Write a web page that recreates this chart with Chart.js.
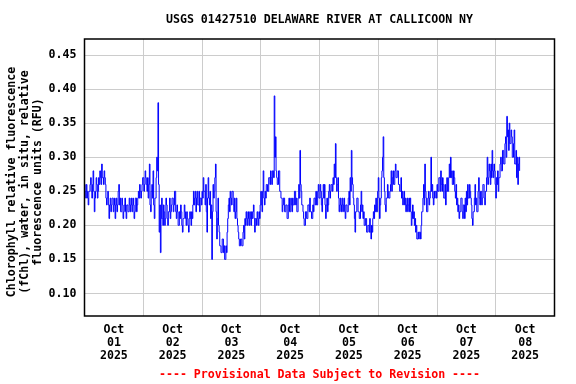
<!DOCTYPE html>
<html><head><meta charset="utf-8">
<script src="https://cdn.jsdelivr.net/npm/chart.js@4.4.0/dist/chart.umd.min.js"></script>
<style>html,body{margin:0;padding:0;background:#fff}</style>
</head><body>
<canvas id="c" width="576" height="384"></canvas>
<script>
const chartTitle = 'USGS 01427510 DELAWARE RIVER AT CALLICOON NY';
const yTitleLines = ['Chlorophyll relative fluorescence', '(fChl), water, in situ, relative', 'fluorescence units (RFU)'];
const footnote = '---- Provisional Data Subject to Revision ----';
const tickMonths = ['Oct', 'Oct', 'Oct', 'Oct', 'Oct', 'Oct', 'Oct', 'Oct'];
const tickDays = ['01', '02', '03', '04', '05', '06', '07', '08'];
const tickYears = ['2025', '2025', '2025', '2025', '2025', '2025', '2025', '2025'];
const yTickValues = [0.10, 0.15, 0.20, 0.25, 0.30, 0.35, 0.40, 0.45];
// readings every 15 minutes, starting Oct 01 00:00 (x in days since Oct 01 00:00)
const startDay = 0;
const stepDays = 1 / 96;
const chlRFU = [
  // Oct 01
  0.26,0.25,0.24,0.26,0.25,0.24,0.23,0.25,0.25,0.26,0.27,0.25,0.24,0.26,0.28,0.25,0.22,0.24,0.25,0.27,0.26,0.24,0.25,0.27,
  0.26,0.28,0.27,0.26,0.29,0.27,0.27,0.26,0.28,0.27,0.26,0.24,0.23,0.24,0.25,0.23,0.21,0.23,0.24,0.22,0.23,0.24,0.24,0.22,
  0.23,0.24,0.21,0.23,0.24,0.22,0.23,0.25,0.26,0.23,0.24,0.22,0.22,0.24,0.23,0.21,0.22,0.23,0.24,0.22,0.21,0.23,0.23,0.22,
  0.22,0.24,0.23,0.22,0.24,0.23,0.22,0.24,0.23,0.21,0.22,0.24,0.24,0.22,0.23,0.24,0.25,0.24,0.26,0.25,0.24,0.25,0.26,0.27,
  // Oct 02
  0.27,0.25,0.26,0.28,0.27,0.26,0.25,0.27,0.24,0.26,0.29,0.23,0.22,0.25,0.26,0.24,0.28,0.23,0.21,0.24,0.24,0.27,0.30,0.28,
  0.38,0.26,0.19,0.23,0.16,0.21,0.24,0.21,0.20,0.23,0.22,0.20,0.21,0.24,0.23,0.21,0.20,0.22,0.22,0.24,0.21,0.22,0.23,0.24,
  0.24,0.22,0.23,0.25,0.25,0.22,0.21,0.23,0.22,0.20,0.20,0.22,0.21,0.23,0.22,0.20,0.19,0.21,0.21,0.23,0.22,0.21,0.20,0.22,
  0.21,0.20,0.19,0.21,0.22,0.21,0.20,0.22,0.21,0.23,0.25,0.23,0.24,0.25,0.22,0.24,0.25,0.23,0.23,0.25,0.22,0.24,0.24,0.23,
  // Oct 03
  0.25,0.24,0.27,0.25,0.25,0.23,0.26,0.22,0.19,0.24,0.27,0.24,0.23,0.25,0.21,0.23,0.15,0.22,0.26,0.24,0.25,0.27,0.29,0.22,
  0.18,0.21,0.24,0.20,0.19,0.17,0.17,0.16,0.16,0.18,0.18,0.16,0.17,0.15,0.15,0.17,0.16,0.19,0.21,0.23,0.24,0.22,0.25,0.24,
  0.23,0.25,0.25,0.23,0.22,0.24,0.21,0.22,0.24,0.21,0.20,0.19,0.18,0.17,0.17,0.18,0.18,0.17,0.17,0.19,0.20,0.18,0.21,0.20,
  0.22,0.21,0.20,0.22,0.21,0.20,0.22,0.21,0.20,0.22,0.21,0.22,0.23,0.21,0.19,0.21,0.21,0.20,0.22,0.21,0.20,0.22,0.21,0.23,
  // Oct 04
  0.25,0.23,0.22,0.25,0.28,0.24,0.23,0.25,0.24,0.26,0.26,0.25,0.25,0.27,0.27,0.26,0.28,0.27,0.26,0.28,0.28,0.27,0.39,0.30,
  0.33,0.28,0.27,0.26,0.26,0.28,0.28,0.25,0.25,0.24,0.24,0.22,0.23,0.24,0.24,0.22,0.22,0.23,0.23,0.21,0.21,0.23,0.24,0.22,
  0.22,0.24,0.23,0.22,0.24,0.23,0.23,0.25,0.25,0.23,0.24,0.22,0.22,0.24,0.26,0.24,0.31,0.26,0.25,0.23,0.23,0.22,0.21,0.20,
  0.20,0.22,0.22,0.21,0.21,0.23,0.23,0.22,0.24,0.22,0.22,0.21,0.21,0.23,0.22,0.24,0.24,0.23,0.25,0.23,0.23,0.25,0.26,0.24,
  // Oct 05
  0.24,0.26,0.25,0.23,0.22,0.24,0.26,0.24,0.26,0.23,0.21,0.23,0.24,0.22,0.23,0.25,0.26,0.24,0.25,0.26,0.26,0.25,0.27,0.26,
  0.29,0.27,0.32,0.27,0.25,0.26,0.27,0.24,0.22,0.23,0.24,0.22,0.23,0.24,0.22,0.23,0.24,0.22,0.21,0.23,0.23,0.22,0.22,0.24,
  0.25,0.23,0.27,0.25,0.31,0.27,0.26,0.24,0.23,0.21,0.19,0.22,0.22,0.24,0.24,0.22,0.22,0.21,0.21,0.23,0.25,0.22,0.23,0.21,
  0.22,0.20,0.20,0.21,0.21,0.19,0.19,0.20,0.20,0.19,0.21,0.19,0.18,0.20,0.19,0.21,0.22,0.21,0.23,0.22,0.24,0.22,0.22,0.25,
  // Oct 06
  0.27,0.24,0.21,0.23,0.24,0.27,0.28,0.30,0.33,0.27,0.25,0.23,0.22,0.24,0.24,0.26,0.25,0.24,0.24,0.25,0.26,0.28,0.25,0.27,
  0.28,0.26,0.26,0.28,0.29,0.27,0.27,0.28,0.28,0.26,0.26,0.25,0.25,0.27,0.24,0.25,0.23,0.24,0.25,0.23,0.24,0.22,0.23,0.24,
  0.22,0.23,0.24,0.22,0.24,0.22,0.20,0.21,0.23,0.21,0.22,0.20,0.21,0.19,0.20,0.18,0.18,0.19,0.18,0.19,0.19,0.18,0.20,0.22,
  0.22,0.24,0.26,0.23,0.29,0.25,0.24,0.22,0.22,0.24,0.25,0.23,0.24,0.25,0.30,0.25,0.26,0.24,0.23,0.25,0.24,0.25,0.25,0.24,
  0.26,0.25,0.25,0.27,0.27,0.25,0.28,0.26,
  // Oct 07
  0.25,0.27,0.26,0.24,0.24,0.26,0.23,0.25,0.27,0.25,0.25,0.27,0.29,0.27,0.30,0.27,0.28,0.26,0.26,0.28,0.27,0.25,0.24,0.26,
  0.23,0.24,0.22,0.23,0.21,0.22,0.22,0.24,0.24,0.22,0.21,0.23,0.23,0.21,0.24,0.22,0.25,0.23,0.26,0.24,0.24,0.26,0.25,0.24,
  0.23,0.21,0.20,0.22,0.22,0.24,0.26,0.23,0.24,0.22,0.22,0.25,0.27,0.24,0.23,0.25,0.25,0.23,0.24,0.26,0.26,0.24,0.23,0.25,
  0.25,0.27,0.30,0.26,0.27,0.29,0.28,0.26,0.29,0.27,0.31,0.28,0.27,0.29,0.28,0.26,0.24,0.27,0.26,0.28,0.25,0.27,0.27,0.29,
  // Oct 08
  0.30,0.28,0.28,0.31,0.31,0.29,0.29,0.32,0.33,0.30,0.36,0.33,0.34,0.31,0.35,0.32,0.32,0.34,0.33,0.30,0.30,0.32,0.34,0.29,
  0.29,0.31,0.27,0.30,0.26,0.29,0.30,0.28
];

const FONT = "'DejaVu Sans Mono', monospace";
const FS = 11.6;
const BOLD = 'bold ' + FS + 'px ' + FONT;

const textPlugin = {
  id: 'texts',
  afterDraw(chart) {
    const {ctx, chartArea: a} = chart;
    const cx = (a.left + a.right) / 2;
    ctx.save();
    // frame
    ctx.strokeStyle = '#000';
    ctx.lineWidth = 1.5;
    ctx.strokeRect(a.left, a.top, a.right - a.left, a.bottom - a.top);
    // title
    ctx.font = BOLD;
    ctx.textAlign = 'center';
    ctx.textBaseline = 'middle';
    ctx.fillStyle = '#000';
    ctx.fillText(chartTitle, cx, 20);
    // footnote
    ctx.fillStyle = '#ff0000';
    ctx.fillText(footnote, cx, 375);
    // y axis title
    ctx.fillStyle = '#000';
    ctx.translate(0, 182);
    ctx.rotate(-Math.PI / 2);
    yTitleLines.forEach((line, i) => ctx.fillText(line, 0, 12 + i * 13));
    ctx.restore();
  }
};

new Chart(document.getElementById('c').getContext('2d'), {
  type: 'line',
  data: {
    datasets: [{
      data: chlRFU.map((v, i) => ({x: startDay + i * stepDays, y: v})),
      borderColor: '#0000ff',
      borderWidth: 1,
      pointRadius: 0,
      stepped: true,
      fill: false
    }]
  },
  options: {
    responsive: false,
    animation: false,
    devicePixelRatio: 1,
    layout: {padding: {left: 0, right: 21.5, top: 39, bottom: 20}},
    plugins: {
      legend: {display: false},
      tooltip: {enabled: false},
      title: {display: false},
      subtitle: {display: false}
    },
    scales: {
      x: {
        type: 'linear', min: 0, max: 8,
        afterBuildTicks: s => {
          const t = [];
          for (let k = 0; k <= 16; k++) t.push({value: k * 0.5});
          s.ticks = t;
        },
        afterFit: s => { s.height = 48; },
        grid: {
          color: c => (c.tick && Number.isInteger(c.tick.value)) ? '#cccccc' : 'rgba(0,0,0,0)',
          drawTicks: false, lineWidth: 1
        },
        border: {display: false},
        ticks: {
          autoSkip: false, maxRotation: 0, minRotation: 0, padding: 7, color: '#000',
          font: {family: FONT, size: FS, weight: 'bold', lineHeight: 13 / FS},
          callback: v => {
            if (Number.isInteger(v)) return '';
            const i = Math.floor(v);
            return [tickMonths[i], tickDays[i], tickYears[i]];
          }
        }
      },
      y: {
        min: 0.067, max: 0.4735,
        afterBuildTicks: s => { s.ticks = yTickValues.map(v => ({value: v})); },
        afterFit: s => { s.width = 84.5; },
        grid: {color: '#cccccc', drawTicks: false, lineWidth: 1},
        border: {display: false},
        ticks: {
          padding: 8, color: '#000',
          font: {family: FONT, size: FS, weight: 'bold'},
          callback: v => Number(v).toFixed(2)
        }
      }
    }
  },
  plugins: [textPlugin]
});
</script>
</body></html>
